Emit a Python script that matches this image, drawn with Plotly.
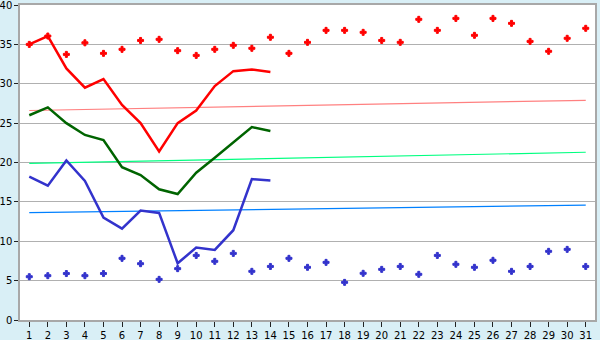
import plotly.graph_objects as go

days = list(range(1, 32))
line_days = list(range(1, 15))

red_points = [35.0, 36.06, 33.73, 35.2, 33.86, 34.37, 35.5, 35.64, 34.2, 33.6,
              34.37, 34.88, 34.5, 35.9, 33.86, 35.26, 36.78, 36.78, 36.53, 35.5,
              35.26, 38.18, 36.78, 38.3, 36.15, 38.3, 37.67, 35.38, 34.12, 35.77, 37.04]
blue_points = [5.5, 5.63, 5.9, 5.63, 5.9, 7.83, 7.15, 5.16, 6.52, 8.2,
               7.45, 8.46, 6.18, 6.8, 7.83, 6.69, 7.32, 4.78, 5.93, 6.43,
               6.8, 5.8, 8.2, 7.07, 6.69, 7.58, 6.18, 6.8, 8.72, 8.97, 6.8]

red_line = [35.0, 36.06, 31.95, 29.5, 30.6, 27.3, 25.0, 21.4, 25.0, 26.6, 29.7, 31.6, 31.8, 31.5]
green_line = [26.0, 27.0, 25.0, 23.5, 22.86, 19.4, 18.4, 16.6, 16.0, 18.7, 20.6, 22.6, 24.5, 24.0]
blue_line = [18.2, 17.06, 20.25, 17.65, 13.0, 11.6, 13.9, 13.6, 7.2, 9.2, 8.9, 11.4, 17.9, 17.7]

trend_days = [1, 31]
red_trend = [26.6, 27.9]
green_trend = [19.9, 21.3]
blue_trend = [13.63, 14.6]

fig = go.Figure()

fig.add_trace(go.Scatter(x=trend_days, y=red_trend, mode="lines",
                         line=dict(color="#ff8080", width=1.2), showlegend=False))
fig.add_trace(go.Scatter(x=trend_days, y=green_trend, mode="lines",
                         line=dict(color="#00ff80", width=1.2), showlegend=False))
fig.add_trace(go.Scatter(x=trend_days, y=blue_trend, mode="lines",
                         line=dict(color="#0080ff", width=1.2), showlegend=False))

fig.add_trace(go.Scatter(x=line_days, y=red_line, mode="lines",
                         line=dict(color="#ff0000", width=2.5), showlegend=False))
fig.add_trace(go.Scatter(x=line_days, y=green_line, mode="lines",
                         line=dict(color="#006400", width=2.5), showlegend=False))
fig.add_trace(go.Scatter(x=line_days, y=blue_line, mode="lines",
                         line=dict(color="#3333cc", width=2.5), showlegend=False))

fig.add_trace(go.Scatter(x=days, y=red_points, mode="markers",
                         marker=dict(symbol="cross", size=5, color="#ff0000",
                                     line=dict(color="#ff0000", width=1)), showlegend=False))
fig.add_trace(go.Scatter(x=days, y=blue_points, mode="markers",
                         marker=dict(symbol="cross", size=5, color="#3333cc",
                                     line=dict(color="#3333cc", width=1)), showlegend=False))

fig.update_layout(
    width=600, height=340,
    margin=dict(l=20, r=5, t=5, b=20),
    paper_bgcolor="#d9eff6",
    plot_bgcolor="#ffffff",
    font=dict(family="DejaVu Sans", size=10, color="#000000"),
    showlegend=False,
)
fig.update_xaxes(
    range=[0.5, 31.5], tickmode="array", tickvals=days, ticktext=[str(d) for d in days],
    showgrid=False, zeroline=False, showline=True, linecolor="#a8a8a8", linewidth=1.5,
    mirror=True, ticks="outside", ticklen=5, tickcolor="#222222", tickwidth=1,
    tickfont=dict(size=10), automargin=False, ticklabeloverflow="allow",
)
fig.update_yaxes(
    range=[0, 40], tickmode="array", tickvals=[0, 5, 10, 15, 20, 25, 30, 35, 40],
    showgrid=True, gridcolor="#b0b0b0", gridwidth=1, zeroline=False,
    showline=True, linecolor="#a8a8a8", linewidth=1.5, mirror=True,
    ticks="outside", ticklen=4, tickcolor="#222222", tickwidth=1,
    tickfont=dict(size=10), automargin=False, ticklabeloverflow="allow",
)

fig.write_html("out.html")
